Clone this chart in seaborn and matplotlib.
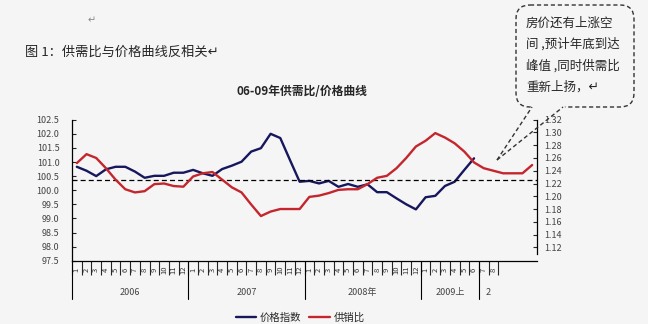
import numpy as np
import pandas as pd
import matplotlib
matplotlib.use('Agg')
import matplotlib.pyplot as plt
import matplotlib.transforms as mtransforms
from matplotlib.patches import FancyBboxPatch
from matplotlib.lines import Line2D
import seaborn as sns

sns.set_style('white')
plt.rcParams['font.family'] = ['Noto Sans CJK SC', 'DejaVu Sans']
plt.rcParams['axes.unicode_minus'] = False

# 价格指数 (左轴), 2006.1 - 2009.6
price_index = [100.83, 100.69, 100.50, 100.74, 100.83, 100.83, 100.66, 100.44, 100.51, 100.51, 100.62, 100.62,
               100.72, 100.60, 100.51, 100.75, 100.87, 101.01, 101.37, 101.49, 102.00, 101.85, 101.07, 100.30,
               100.33, 100.24, 100.33, 100.12, 100.22, 100.12, 100.21, 99.93, 99.93, 99.71, 99.50, 99.32,
               99.75, 99.80, 100.15, 100.30, 100.72, 101.13]
# 供销比 (右轴), 2006.1 - 2009.12
supply_ratio = [1.252, 1.266, 1.260, 1.244, 1.226, 1.211, 1.206, 1.208, 1.219, 1.220, 1.216, 1.215,
                1.231, 1.236, 1.238, 1.226, 1.214, 1.206, 1.187, 1.169, 1.176, 1.180, 1.180, 1.180,
                1.199, 1.201, 1.205, 1.210, 1.211, 1.211, 1.219, 1.229, 1.232, 1.244, 1.260, 1.278,
                1.287, 1.299, 1.292, 1.283, 1.270, 1.253, 1.244, 1.240, 1.236, 1.236, 1.236, 1.249]
month_labels = [str(m) for m in range(1, 13)] * 3 + [str(m) for m in range(1, 9)]
group_labels = ['2006', '2007', '2008年', '2009上', '2']
group_sizes = [12, 12, 12, 6, 2]
ref_level = 100.35
n_slots = 48

blue = '#17175e'
red = '#c4262e'
bg = '#f5f5f5'

df_p = pd.DataFrame({'x': np.arange(len(price_index)) + 0.5, 'v': price_index})
df_s = pd.DataFrame({'x': np.arange(len(supply_ratio)) + 0.5, 'v': supply_ratio})

fig = plt.figure(figsize=(6.48, 3.24), dpi=100, facecolor=bg)
ax = fig.add_axes([72 / 648, (324 - 260.7) / 324, 465 / 648, 141 / 324])
ax.set_facecolor('none')
ax2 = ax.twinx()

sns.lineplot(data=df_p, x='x', y='v', ax=ax, color=blue, lw=1.7)
sns.lineplot(data=df_s, x='x', y='v', ax=ax2, color=red, lw=1.7)
ax.axhline(ref_level, color='black', ls=(0, (4, 2.5)), lw=0.9)

ax.set_xlim(0, n_slots)
ax.set_ylim(97.5, 102.5)
ax.set_yticks(np.arange(97.5, 102.51, 0.5))
ax.set_yticklabels([f'{v:.1f}' for v in np.arange(97.5, 102.51, 0.5)])
ax2.set_ylim(1.099, 1.32)
ax2.set_yticks(np.arange(1.12, 1.321, 0.02))
ax2.set_yticklabels([f'{v:.2f}' for v in np.arange(1.12, 1.321, 0.02)])
ax2.spines['right'].set_bounds(1.11, 1.32)

for a in (ax, ax2):
    a.set_xlabel('')
    a.set_ylabel('')
    a.spines['top'].set_visible(False)
    for s in a.spines.values():
        s.set_color('black')
        s.set_linewidth(0.9)
ax.spines['right'].set_visible(False)
ax2.spines['left'].set_visible(False)
ax2.spines['bottom'].set_visible(False)

ax.tick_params(axis='y', direction='in', length=3, labelsize=6.5, labelcolor='#444', pad=9, left=True)
ax2.tick_params(axis='y', direction='in', length=3, labelsize=6.5, labelcolor='#444', pad=5, right=True)

# 类别轴: 月份刻度
ax.set_xticks(np.arange(sum(group_sizes) + 1))
ax.tick_params(axis='x', direction='out', length=10, width=0.8, labelbottom=False, bottom=True)

trans = mtransforms.blended_transform_factory(ax.transData, ax.transAxes)
for i, lab in enumerate(month_labels):
    ax.text(i + 0.5, -0.066, lab, transform=trans, rotation=90, ha='center', va='center',
            fontsize=5.5, color='#333')
start = 0
for lab, size in zip(group_labels, group_sizes):
    ax.plot([start, start], [0, -0.27], transform=trans, clip_on=False, color='black', lw=0.8)
    ax.text(start + size / 2, -0.229, lab, transform=trans, ha='center', va='center',
            fontsize=6.5, color='#444')
    start += size

# 标题和说明
fig.text(88 / 648, 1 - 20 / 324, '↵', fontsize=7, color='#888', va='center')
fig.text(25 / 648, 1 - 52 / 324, '图 1：供需比与价格曲线反相关↵', fontsize=9.5, va='center')
fig.text(302 / 648, 1 - 92 / 324, '06-09年供需比/价格曲线', fontsize=8.5, fontweight='bold',
         ha='center', va='center')

handles = [Line2D([], [], color=blue, lw=1.7), Line2D([], [], color=red, lw=1.7)]
fig.legend(handles, ['价格指数', '供销比'], loc='center', bbox_to_anchor=(300 / 648, 1 - 318 / 324),
           ncol=2, frameon=False, fontsize=7.5, handlelength=2, handletextpad=0.3, columnspacing=0.8)

# 标注框
ov = fig.add_axes([0, 0, 1, 1], zorder=5)
ov.set_xlim(0, 648)
ov.set_ylim(324, 0)
ov.axis('off')
box = FancyBboxPatch((516, 5), 118, 102, boxstyle='round,pad=0,rounding_size=14',
                     ec='#333', fc='none', lw=1, ls=(0, (3, 2)))
ov.add_patch(box)
ov.plot([532, 563], [107, 107], color=bg, lw=2.5)
ov.plot([497, 532], [160, 107], color='#333', lw=1, ls=(0, (3, 2)))
ov.plot([497, 563], [160, 107], color='#333', lw=1, ls=(0, (3, 2)))
callout = ['房价还有上涨空', '间 ,预计年底到达', '峰值 ,同时供需比', '重新上扬，↵']
for k, line in enumerate(callout):
    ov.text(526, 23 + k * 21.3, line, fontsize=9, va='center', ha='left')

fig.savefig('out.png', dpi=100, facecolor=bg)
